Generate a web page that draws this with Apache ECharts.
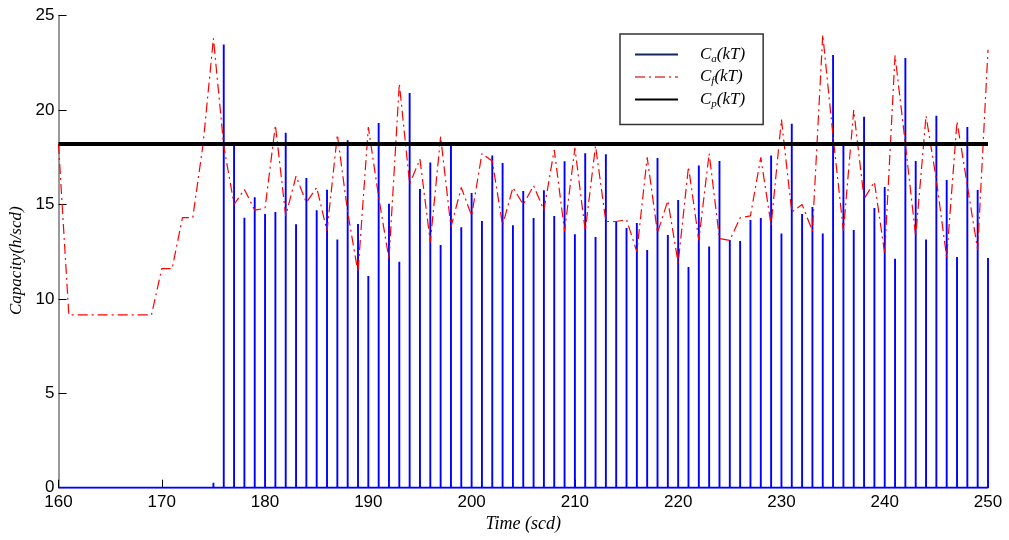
<!DOCTYPE html>
<html>
<head>
<meta charset="utf-8">
<script src="https://cdn.jsdelivr.net/npm/echarts@6/dist/echarts.min.js"></script>
<style>
html,body{margin:0;padding:0;background:#fff;}
#chart{width:1009px;height:540px;}
</style>
</head>
<body>
<div id="chart"></div>
<script>
// Sample times (scd)
const timeSteps = [160,161,162,163,164,165,166,167,168,169,170,171,172,173,174,175,
176,177,178,179,180,181,182,183,184,185,186,187,188,189,190,191,192,193,194,195,
196,197,198,199,200,201,202,203,204,205,206,207,208,209,210,211,212,213,214,215,
216,217,218,219,220,221,222,223,224,225,226,227,228,229,230,231,232,233,234,235,
236,237,238,239,240,241,242,243,244,245,246,247,248,249,250];

// Ca(kT): actual capacity (impulses)
const caValues = [0,0,0,0,0,0,0,0,0,0,0,0,0,0,0,0.26,
23.48,18.1,14.3,15.38,14.5,14.6,18.8,13.95,16.4,14.69,
15.78,13.15,18.4,13.97,11.21,19.32,15.04,11.97,20.9,15.82,
17.23,12.85,18.15,13.79,15.61,14.13,17.6,17.2,13.9,15.71,
14.28,15.75,14.39,17.29,13.42,17.71,13.28,17.66,14.07,13.75,
14.02,12.59,17.46,13.38,15.24,11.69,17.06,12.77,17.3,13.12,
13.07,14.18,14.28,17.59,13.47,19.28,14.5,14.87,13.47,22.92,
18.1,13.65,19.65,14.81,15.93,12.13,22.76,17.3,13.15,19.7,
16.3,12.22,19.1,15.77,12.17];

// Cf(kT): forecast capacity
const cfValues = [18.2,9.15,9.15,9.15,9.15,9.15,9.15,9.15,9.15,9.15,11.6,11.6,14.3,14.3,18.2,23.8,
18.1,15.0,15.8,14.7,14.8,19.2,14.4,16.5,15.1,15.9,
13.6,18.7,14.6,11.4,19.1,15.4,12.1,21.4,16.1,17.4,
13.0,18.6,13.8,15.9,14.4,17.7,17.3,13.9,15.9,15.0,
16.0,14.7,17.9,13.6,18.0,13.6,18.1,14.1,14.1,14.2,
12.5,17.5,13.5,15.2,11.9,17.0,13.1,17.7,13.2,13.1,
14.3,14.4,17.5,13.9,19.5,14.6,15.0,13.6,24.0,18.6,
13.6,20.0,15.3,16.2,12.4,22.9,18.2,13.3,19.7,16.3,
12.2,19.4,16.0,12.6,23.2];

// Cp(kT): planned capacity
const cpTimes = [160, 250];
const cpValues = [18.2, 18.2];

const xTicks = {min:160, max:250, interval:10};
const yTicks = {min:0, max:25, interval:5};

// build impulse path for Ca
const caData = [];
timeSteps.forEach((t, i) => {
  const v = caValues[i];
  if (v > 0) { caData.push([t, 0], [t, v], [t, 0]); }
  else { caData.push([t, 0]); }
});
const cfData = timeSteps.map((t, i) => [t, cfValues[i]]);
const cpData = cpTimes.map((t, i) => [t, cpValues[i]]);

const serif = 'Liberation Serif';
const sans = 'Liberation Sans';
const legendRich = {
  c: {fontFamily: serif, fontStyle: 'italic', fontSize: 17, lineHeight: 20, color: '#000'},
  s: {fontFamily: serif, fontStyle: 'italic', fontSize: 11, lineHeight: 12, verticalAlign: 'bottom', color: '#000'}
};
const hiddenSymbol = {opacity: 0, borderWidth: 0};

const chart = echarts.init(document.getElementById('chart'), null, {renderer: 'canvas'});
chart.setOption({
  animation: false,
  backgroundColor: '#fff',
  grid: {left: 58.5, right: 21, top: 15.7, bottom: 52.3, containLabel: false, outerBoundsMode: 'none'},
  xAxis: {
    type: 'value', min: xTicks.min, max: xTicks.max, interval: xTicks.interval,
    name: 'Time (scd)', nameLocation: 'middle', nameGap: 28,
    nameTextStyle: {fontFamily: serif, fontStyle: 'italic', fontSize: 18, color: '#000'},
    axisLine: {show: true, lineStyle: {color: '#000', width: 1}},
    axisTick: {show: true, inside: true, length: 8, lineStyle: {color: '#000', width: 1}},
    axisLabel: {fontFamily: sans, fontSize: 17, color: '#000', margin: 6},
    splitLine: {show: false}
  },
  yAxis: {
    type: 'value', min: yTicks.min, max: yTicks.max, interval: yTicks.interval,
    name: 'Capacity(h/scd)', nameLocation: 'middle', nameGap: 31, nameRotate: 90,
    nameTextStyle: {fontFamily: serif, fontStyle: 'italic', fontSize: 17, color: '#000', padding: [0, 18, 0, 0]},
    axisLine: {show: true, lineStyle: {color: '#777', width: 1.5}},
    axisTick: {show: true, inside: true, length: 8, lineStyle: {color: '#000', width: 1}},
    axisLabel: {fontFamily: sans, fontSize: 17, color: '#000', margin: 4},
    splitLine: {show: false}
  },
  legend: {
    orient: 'vertical', left: 620, top: 34,
    padding: [12, 18, 15, 14],
    itemWidth: 43, itemHeight: 12, itemGap: 4,
    borderColor: '#333', borderWidth: 1.5,
    backgroundColor: '#fff',
    selectedMode: false,
    textStyle: {padding: [0, 0, 0, 17], rich: legendRich},
    formatter: function (name) {
      const sub = name.charAt(1);
      return '{c|C}{s|' + sub + '}{c|(kT)}';
    },
    data: [
      {name: 'Ca(kT)', lineStyle: {color: '#14245e', width: 2}, itemStyle: hiddenSymbol},
      {name: 'Cf(kT)', lineStyle: {color: '#e0403a', width: 1.5}, itemStyle: hiddenSymbol},
      {name: 'Cp(kT)', lineStyle: {color: '#000', width: 2}, itemStyle: hiddenSymbol}
    ]
  },
  series: [
    {
      name: 'Ca(kT)', type: 'line', data: caData, symbol: 'none', showSymbol: false,
      lineStyle: {color: '#0000ff', width: 1.9}, itemStyle: {color: '#0000ff'}, z: 2
    },
    {
      name: 'Cf(kT)', type: 'line', data: cfData, symbol: 'none', showSymbol: false,
      lineStyle: {color: '#ff0000', width: 1.2, type: [10, 4, 2, 4]}, itemStyle: {color: '#ff0000'}, z: 3
    },
    {
      name: 'Cp(kT)', type: 'line', data: cpData, symbol: 'none', showSymbol: false,
      lineStyle: {color: '#000', width: 4}, itemStyle: {color: '#000'}, z: 4
    }
  ]
});
</script>
</body>
</html>
